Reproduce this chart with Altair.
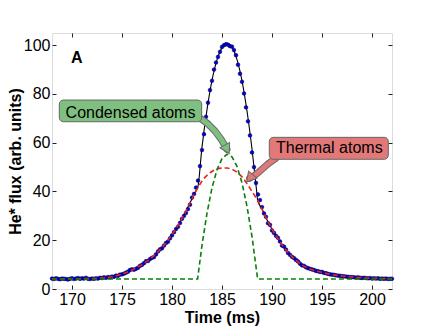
import altair as alt
import pandas as pd

# ---------------- measured data (blue dots) ----------------
DATA_T = [
    168.0, 168.2, 168.4, 168.6, 168.8, 169.0, 169.2, 169.4, 169.6, 169.8,
    170.0, 170.2, 170.4, 170.6, 170.8, 171.0, 171.2, 171.4, 171.6, 171.8,
    172.0, 172.2, 172.4, 172.6, 172.8, 173.0, 173.2, 173.4, 173.6, 173.8,
    174.0, 174.2, 174.4, 174.6, 174.8, 175.0, 175.2, 175.4, 175.6, 175.8,
    176.0, 176.2, 176.4, 176.6, 176.8, 177.0, 177.2, 177.4, 177.6, 177.8,
    178.0, 178.2, 178.4, 178.6, 178.8, 179.0, 179.2, 179.4, 179.6, 179.8,
    180.0, 180.2, 180.4, 180.6, 180.8, 181.0, 181.2, 181.4, 181.6, 181.8,
    182.0, 182.2, 182.4, 182.6, 182.8, 183.0, 183.2, 183.4, 183.6, 183.8,
    184.0, 184.2, 184.4, 184.6, 184.8, 185.0, 185.2, 185.4, 185.6, 185.8,
    186.0, 186.2, 186.4, 186.6, 186.8, 187.0, 187.2, 187.4, 187.6, 187.8,
    188.0, 188.2, 188.4, 188.6, 188.8, 189.0, 189.2, 189.4, 189.6, 189.8,
    190.0, 190.2, 190.4, 190.6, 190.8, 191.0, 191.2, 191.4, 191.6, 191.8,
    192.0, 192.2, 192.4, 192.6, 192.8, 193.0, 193.2, 193.4, 193.6, 193.8,
    194.0, 194.2, 194.4, 194.6, 194.8, 195.0, 195.2, 195.4, 195.6, 195.8,
    196.0, 196.2, 196.4, 196.6, 196.8, 197.0, 197.2, 197.4, 197.6, 197.8,
    198.0, 198.2, 198.4, 198.6, 198.8, 199.0, 199.2, 199.4, 199.6, 199.8,
    200.0, 200.2, 200.4, 200.6, 200.8, 201.0, 201.2, 201.4, 201.6, 201.8,
    202.0,
]
DATA_FLUX = [
    4.3, 4.1, 4.4, 4.2, 4.0, 4.3, 4.2, 4.1, 3.9, 4.2,
    4.4, 4.1, 4.3, 4.5, 4.2, 4.4, 4.3, 4.6, 4.2, 4.1,
    4.3, 4.2, 4.4, 4.3, 4.6, 4.5, 4.8, 4.6, 4.9, 4.8,
    5.1, 5.0, 5.5, 5.4, 5.9, 6.0, 6.3, 6.7, 7.1, 7.8,
    8.1, 7.9, 8.3, 8.7, 9.5, 9.9, 10.6, 11.4, 11.5, 12.3,
    12.8, 13.1, 14.2, 15.4, 16.3, 16.7, 17.8, 18.9, 19.4, 20.8,
    22.0, 23.3, 24.6, 25.5, 27.1, 28.8, 30.0, 31.2, 32.8, 34.6,
    37.5, 39.0, 41.6, 44.5, 50.4, 57.0, 63.5, 70.6, 76.4, 81.6,
    85.4, 90.0, 92.9, 95.2, 97.3, 99.3, 100.0, 100.4, 100.2, 99.6,
    99.4, 98.0, 95.9, 92.0, 88.3, 85.0, 80.2, 74.5, 68.8, 63.0,
    56.0, 50.0, 43.5, 38.8, 36.5, 33.6, 31.0, 29.6, 27.0, 26.3,
    24.0, 23.0, 21.8, 21.0, 19.5, 17.8, 17.4, 16.2, 14.8, 14.0,
    13.2, 12.7, 11.9, 11.3, 10.4, 9.7, 9.5, 8.9, 8.6, 8.3,
    8.0, 7.8, 7.4, 7.3, 7.0, 7.0, 6.6, 6.5, 6.2, 6.0,
    5.9, 5.8, 5.6, 5.5, 5.4, 5.3, 5.2, 5.1, 5.0, 4.9,
    4.9, 4.8, 4.7, 4.8, 4.6, 4.5, 4.6, 4.5, 4.4, 4.5,
    4.3, 4.4, 4.3, 4.4, 4.2, 4.3, 4.2, 4.3, 4.1, 4.2,
    4.2,
]

# ---------------- fitted curves ----------------
FIT_T = [
    168.0, 168.5, 169.0, 169.5, 170.0, 170.5, 171.0, 171.5, 172.0, 172.5,
    173.0, 173.5, 174.0, 174.5, 175.0, 175.5, 176.0, 176.5, 177.0, 177.5,
    178.0, 178.5, 179.0, 179.5, 180.0, 180.5, 181.0, 181.5, 182.0, 182.5,
    182.56,
    183.0, 183.5, 184.0, 184.5, 185.0, 185.5, 186.0, 186.5, 187.0, 187.5,
    188.0, 188.5,
    188.56,
    189.0, 189.5, 190.0, 190.5, 191.0, 191.5, 192.0, 192.5, 193.0, 193.5,
    194.0, 194.5, 195.0, 195.5, 196.0, 196.5, 197.0, 197.5, 198.0, 198.5,
    199.0, 199.5, 200.0, 200.5, 201.0, 201.5, 202.0,
]
FIT_THERMAL = [
    4.1, 4.1, 4.1, 4.1, 4.2, 4.2, 4.2, 4.25, 4.3, 4.4,
    4.5, 4.7, 5.0, 5.5, 6.1, 6.9, 7.8, 8.8, 10.0, 11.4,
    13.0, 14.9, 17.0, 19.5, 22.3, 25.5, 29.0, 32.8, 37.0, 41.0,
    41.4,
    44.3, 46.6, 48.2, 49.2, 49.6, 49.6, 49.1, 47.9, 46.0, 43.2,
    40.0, 36.8,
    36.4,
    32.8, 28.4, 24.5, 21.2, 18.2, 15.6, 13.3, 11.4, 9.9, 8.7,
    7.9, 7.3, 6.8, 6.3, 5.9, 5.6, 5.3, 5.1, 4.9, 4.75,
    4.6, 4.5, 4.4, 4.35, 4.3, 4.25, 4.2,
]
FIT_CONDENSED = [
    4.1, 4.1, 4.1, 4.1, 4.1, 4.1, 4.1, 4.1, 4.1, 4.1,
    4.1, 4.1, 4.1, 4.1, 4.1, 4.1, 4.1, 4.1, 4.1, 4.1,
    4.1, 4.1, 4.1, 4.1, 4.1, 4.1, 4.1, 4.1, 4.1, 4.1,
    4.1,
    18.0, 31.1, 41.5, 48.9, 53.5, 55.3, 54.2, 50.3, 43.5, 33.9,
    21.5, 6.1,
    4.1,
    4.1, 4.1, 4.1, 4.1, 4.1, 4.1, 4.1, 4.1, 4.1, 4.1,
    4.1, 4.1, 4.1, 4.1, 4.1, 4.1, 4.1, 4.1, 4.1, 4.1,
    4.1, 4.1, 4.1, 4.1, 4.1, 4.1, 4.1,
]
FIT_TOTAL = [
    4.1, 4.1, 4.1, 4.1, 4.2, 4.2, 4.2, 4.25, 4.3, 4.4,
    4.5, 4.7, 5.0, 5.5, 6.1, 6.9, 7.8, 8.8, 10.0, 11.4,
    13.0, 14.9, 17.0, 19.5, 22.3, 25.5, 29.0, 32.8, 37.0, 41.0,
    41.4,
    58.2, 73.6, 85.6, 94.0, 99.0, 100.8, 99.2, 94.1, 85.4, 73.0,
    57.4, 38.8,
    36.4,
    32.8, 28.4, 24.5, 21.2, 18.2, 15.6, 13.3, 11.4, 9.9, 8.7,
    7.9, 7.3, 6.8, 6.3, 5.9, 5.6, 5.3, 5.1, 4.9, 4.75,
    4.6, 4.5, 4.4, 4.35, 4.3, 4.25, 4.2,
]

X_DOMAIN = [168, 202]
Y_DOMAIN = [0, 105]
X_TICKS = [170, 175, 180, 185, 190, 195, 200]
Y_TICKS = [0, 20, 40, 60, 80, 100]
X_TITLE = "Time (ms)"
Y_TITLE = "He* flux (arb. units)"

# ---------------- annotations ----------------
PANEL_LABEL = ["A"]
PANEL_T = [169.9]
PANEL_V = [92.5]

BOX_LABELS = ["Condensed atoms", "Thermal atoms"]
BOX_T1 = [168.73, 189.73]
BOX_T2 = [182.97, 201.63]
BOX_V1 = [68.6, 53.2]
BOX_V2 = [77.5, 62.2]
BOX_TEXT_T = [175.85, 195.73]
BOX_TEXT_V = [70.1, 55.8]
BOX_FILL = ["#7fbf7f", "#e27878"]

ARROW_COND_T = [182.8, 183.6, 184.3, 184.9, 185.3, 185.5]
ARROW_COND_V = [70.1, 67.7, 64.8, 61.5, 58.7, 57.3]
ARROW_THERM_T = [190.4, 189.6, 188.9, 188.4, 187.77]
ARROW_THERM_V = [53.7, 51.3, 48.8, 47.0, 45.4]
HEAD_T = [185.5, 187.77]
HEAD_V = [57.3, 45.4]
HEAD_ANGLE = [332, 40]

FONT = "Liberation Sans"

# ---------------- frames ----------------
df_data = pd.DataFrame({"t": DATA_T, "v": DATA_FLUX})
df_total = pd.DataFrame({"t": FIT_T, "v": FIT_TOTAL, "o": range(len(FIT_T))})
df_therm = pd.DataFrame({"t": FIT_T, "v": FIT_THERMAL, "o": range(len(FIT_T))})
df_cond = pd.DataFrame({"t": FIT_T, "v": FIT_CONDENSED, "o": range(len(FIT_T))})
df_boxes = pd.DataFrame({"t": BOX_T1, "t2": BOX_T2, "v": BOX_V1, "v2": BOX_V2,
                         "fill": BOX_FILL, "label": BOX_LABELS,
                         "tt": BOX_TEXT_T, "tv": BOX_TEXT_V})
df_arrow_c = pd.DataFrame({"t": ARROW_COND_T, "v": ARROW_COND_V, "o": range(len(ARROW_COND_T))})
df_arrow_t = pd.DataFrame({"t": ARROW_THERM_T, "v": ARROW_THERM_V, "o": range(len(ARROW_THERM_T))})
df_heads = pd.DataFrame({"t": HEAD_T, "v": HEAD_V, "a": HEAD_ANGLE, "fill": BOX_FILL})
df_panel = pd.DataFrame({"t": PANEL_T, "v": PANEL_V, "label": PANEL_LABEL})

xs = alt.Scale(domain=X_DOMAIN, nice=False, zero=False)
ys = alt.Scale(domain=Y_DOMAIN, nice=False, zero=False)

common_axis = dict(domain=False, grid=False, tickSize=4, offset=-4,
                   tickColor="#222", tickWidth=1,
                   labelFont=FONT, labelFontSize=16, labelColor="black",
                   titleFont=FONT, titleFontSize=16, titleFontWeight="bold",
                   titleColor="black")

x_main = alt.X("t:Q", scale=xs, axis=alt.Axis(
    values=X_TICKS, title=X_TITLE, orient="bottom", labelPadding=2,
    titleX=170, titleY=37, titleBaseline="alphabetic", **common_axis))
y_main = alt.Y("v:Q", scale=ys, axis=alt.Axis(
    values=Y_TICKS, title=Y_TITLE, orient="left", labelPadding=2,
    titleX=-36, titleY=128, titleAngle=270, titleBaseline="alphabetic",
    titleAlign="center", **common_axis))
x_top = alt.X("t:Q", scale=xs, axis=alt.Axis(
    values=X_TICKS, title=None, orient="top", labels=False, **common_axis))
y_right = alt.Y("v:Q", scale=ys, axis=alt.Axis(
    values=Y_TICKS, title=None, orient="right", labels=False, **common_axis))
x_none = alt.X("t:Q", scale=xs, axis=None)
y_none = alt.Y("v:Q", scale=ys, axis=None)

total_line = alt.Chart(df_total).mark_line(
    color="black", strokeWidth=1.1, interpolate="monotone").encode(
    x=x_top, y=y_right, order="o:Q")

dots = alt.Chart(df_data).mark_circle(
    size=14, color="#0000e0", stroke="#00003a", strokeWidth=0.5, opacity=1).encode(
    x=x_main, y=y_main)

therm_line = alt.Chart(df_therm).mark_line(
    color="#e8231f", strokeWidth=1.6, strokeDash=[5, 3], interpolate="monotone").encode(
    x=x_none, y=y_none, order="o:Q")

cond_line = alt.Chart(df_cond).mark_line(
    color="#0a800a", strokeWidth=1.6, strokeDash=[5, 3]).encode(
    x=x_none, y=y_none, order="o:Q")


def arrow_body(df, color):
    outline = alt.Chart(df).mark_trail(color="#6a6a6a", interpolate="monotone").encode(
        x=x_none, y=y_none, order="o:Q", size=alt.value(7))
    body = alt.Chart(df).mark_trail(color=color, interpolate="monotone").encode(
        x=x_none, y=y_none, order="o:Q", size=alt.value(5))
    return outline + body


arrow_c = arrow_body(df_arrow_c, BOX_FILL[0])
arrow_t = arrow_body(df_arrow_t, BOX_FILL[1])

heads = alt.Chart(df_heads).mark_point(
    shape="triangle-down", filled=True, size=120, stroke="#6a6a6a",
    strokeWidth=1, opacity=1).encode(
    x=x_none, y=y_none, fill=alt.Fill("fill:N", scale=None),
    angle=alt.Angle("a:Q", scale=None))

boxes = alt.Chart(df_boxes).mark_rect(
    cornerRadius=4, stroke="#666666", strokeWidth=1).encode(
    x=x_none, x2="t2:Q", y=y_none, y2="v2:Q", fill=alt.Fill("fill:N", scale=None))

box_text = alt.Chart(df_boxes).mark_text(
    font=FONT, fontSize=16, color="black", align="center", baseline="alphabetic").encode(
    x=alt.X("tt:Q", scale=xs, axis=None), y=alt.Y("tv:Q", scale=ys, axis=None),
    text="label:N")

panel = alt.Chart(df_panel).mark_text(
    font=FONT, fontSize=16, fontWeight="bold", color="black", align="left",
    baseline="alphabetic").encode(x=x_none, y=y_none, text="label:N")

chart = alt.layer(
    total_line, dots, therm_line, cond_line, arrow_c, arrow_t, heads,
    boxes, box_text, panel
).resolve_axis(x="independent", y="independent").properties(
    width=340, height=256,
    padding={"left": 44, "top": 25, "right": 36, "bottom": 40},
    autosize=alt.AutoSizeParams(type="none"),
).configure_view(stroke="#222", strokeWidth=1).configure(background="white")

chart.save("out.html", embed_options={"renderer": "svg", "actions": False})
